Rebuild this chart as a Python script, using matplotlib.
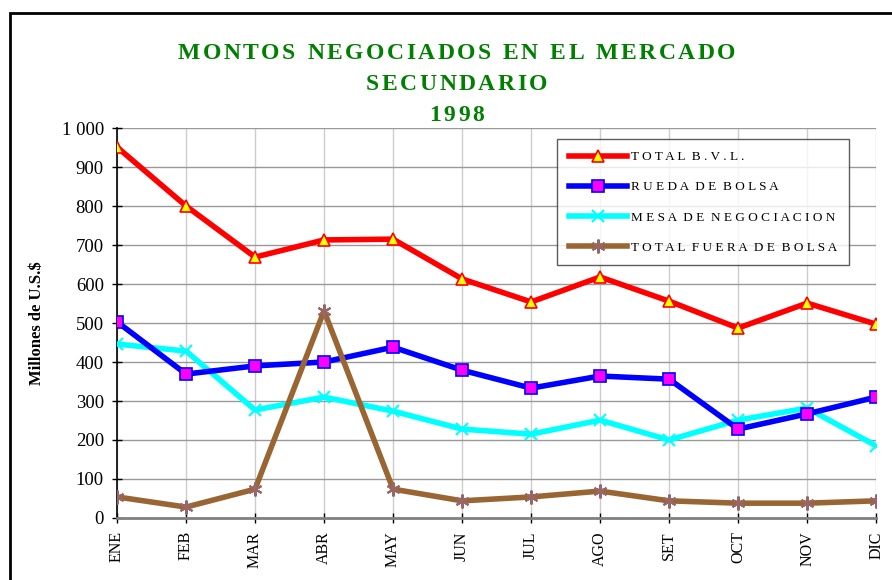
import matplotlib.pyplot as plt
from matplotlib.patches import Rectangle

meses = ["ENE", "FEB", "MAR", "ABR", "MAY", "JUN", "JUL", "AGO", "SET", "OCT", "NOV", "DIC"]
total_bvl = [951, 800, 669, 713, 715, 613, 554, 618, 556, 487, 551, 497]
rueda = [503, 369, 390, 400, 438, 379, 333, 364, 356, 228, 267, 310]
mesa = [446, 428, 277, 310, 274, 228, 215, 251, 200, 251, 282, 185]
fuera = [54, 28, 74, 531, 74, 44, 54, 69, 44, 38, 38, 44]
etiquetas = ["TOTAL B.V.L.", "RUEDA DE BOLSA", "MESA DE NEGOCIACION", "TOTAL FUERA DE BOLSA"]
titulo = ["MONTOS NEGOCIADOS EN EL MERCADO", "SECUNDARIO", "1998"]


def espaciar(s):
    # letter-spaced look of the original legend
    return "  ".join(" ".join(w) for w in s.split(" "))


plt.rcParams['font.family'] = ['Liberation Serif', 'DejaVu Serif']

fig = plt.figure(figsize=(8.92, 5.8), dpi=100)
ax = fig.add_axes([0.1312, 0.1069, 0.851, 0.6724])

x = range(len(meses))
ax.plot(x, total_bvl, color='#ff0000', lw=4, marker='^', ms=8, mfc='#ffff00', mec='#ff0000', mew=1.2,
        label=espaciar(etiquetas[0]), zorder=5)
ax.plot(x, rueda, color='#0000ff', lw=4, marker='s', ms=8, mfc='#ff00ff', mec='#0000ff', mew=1.2,
        label=espaciar(etiquetas[1]), zorder=4)
ax.plot(x, mesa, color='#00ffff', lw=4, marker='x', ms=9, mec='#00ffff', mew=1.5,
        label=espaciar(etiquetas[2]), zorder=3)
ax.plot(x, fuera, color='#996633', lw=4, marker=(6, 2, 0), ms=10, mec='#996666', mew=1.5,
        label=espaciar(etiquetas[3]), zorder=6)

ax.set_xlim(0, 11)
ax.set_ylim(0, 1000)
ax.set_yticks(range(0, 1001, 100))
ax.set_yticklabels(["1 000" if v == 1000 else str(v) for v in range(0, 1001, 100)], fontsize=13.5)
ax.set_xticks(list(x))
ax.set_xticklabels(meses, rotation=90, fontsize=11.5)

ax.yaxis.grid(True, color='#999999', lw=1)
ax.xaxis.grid(True, color='#cccccc', lw=1)
ax.set_axisbelow(True)
for s in ['top', 'right']:
    ax.spines[s].set_visible(False)
ax.spines['left'].set_linewidth(1.2)
ax.spines['bottom'].set_color('#808080')
ax.spines['bottom'].set_linewidth(2)
ax.tick_params(axis='both', direction='inout', length=7, width=1, pad=6)

ax.set_ylabel("Millones de U.S.$", fontsize=12, fontweight='bold', labelpad=12)

leg = ax.legend(loc='upper left', bbox_to_anchor=(0.58, 0.971), fontsize=9.5, frameon=True,
                fancybox=False, edgecolor='#333333', handlelength=4.4, handletextpad=0.3,
                labelspacing=1.35, borderpad=0.9, borderaxespad=0)
leg.get_frame().set_linewidth(1)

# title, drawn letter by letter to get the tracking of the original
verde = '#008000'
renderer = fig.canvas.get_renderer()
tracking = 2.5  # px between letters
for t, yy in zip(titulo, [0.907, 0.854, 0.801]):
    pieces = []
    for ch in t:
        txt = fig.text(0, yy, ch, ha='left', va='center', fontsize=17, fontweight='bold', color=verde)
        w = txt.get_window_extent(renderer).width if ch != " " else 7
        pieces.append((txt, w))
    total = sum(w for _, w in pieces) + tracking * (len(pieces) - 1)
    xpos = 0.512 * fig.bbox.width - total / 2
    for txt, w in pieces:
        txt.set_x(xpos / fig.bbox.width)
        xpos += w + tracking

fig.patches.append(Rectangle((10 / 892, -0.2), 1.2, 1.2 - 13 / 580, transform=fig.transFigure,
                             fill=False, edgecolor='black', lw=2))

fig.savefig("out.png", dpi=100)
